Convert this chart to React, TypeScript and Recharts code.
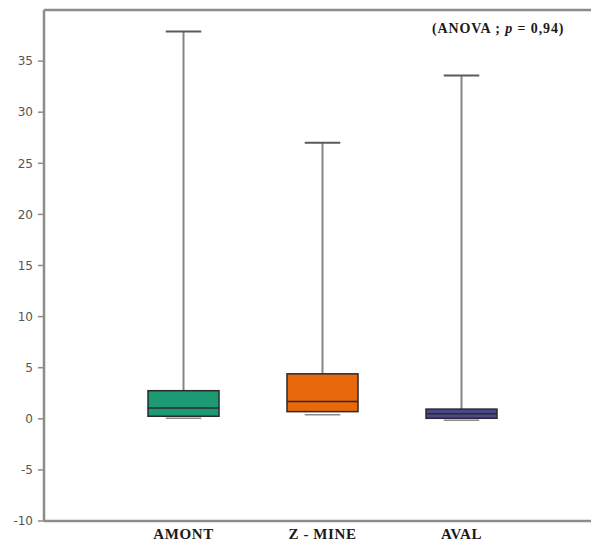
import React from "react";
import { ComposedChart, Bar, XAxis, YAxis, ReferenceLine } from "recharts";

const categories = ["AMONT", "Z - MINE", "AVAL"];
const minValues = [0.2, 0.55, 0.0];
const q1Values = [0.25, 0.7, 0.05];
const medianValues = [1.05, 1.7, 0.5];
const q3Values = [2.75, 4.4, 0.95];
const maxValues = [37.9, 27.0, 33.6];
const fills = ["#1b9a74", "#e8680c", "#4a4888"];
const yTicks = [-10, -5, 0, 5, 10, 15, 20, 25, 30, 35];

const data = categories.map((name, i) => ({
  name,
  min: minValues[i],
  q1: q1Values[i],
  median: medianValues[i],
  q3: q3Values[i],
  max: maxValues[i],
  range: [minValues[i], maxValues[i]],
  fill: fills[i],
}));

const BoxShape = (props: any) => {
  const { x, y, width, height, payload } = props;
  if (height == null || !payload) return null;
  const { min, max, q1, q3, median, fill } = payload;
  const yOf = (v: number) => y + ((max - v) / (max - min)) * height;
  const cx = x + width / 2;
  const capW = width * 0.5;
  return (
    <g>
      <line x1={cx} x2={cx} y1={yOf(max)} y2={yOf(q3)} stroke="#858585" strokeWidth={2} />
      <line x1={cx - capW / 2} x2={cx + capW / 2} y1={yOf(max)} y2={yOf(max)} stroke="#5a5a5a" strokeWidth={2} />
      <line x1={cx - capW / 2} x2={cx + capW / 2} y1={yOf(min) + 1.5} y2={yOf(min) + 1.5} stroke="#8a8a8a" strokeWidth={1.5} />
      <rect
        x={x}
        y={yOf(q3)}
        width={width}
        height={Math.max(yOf(q1) - yOf(q3), 1)}
        fill={fill}
        stroke="#2a2a2a"
        strokeWidth={1.5}
      />
      <line x1={x} x2={x + width} y1={yOf(median)} y2={yOf(median)} stroke="#2a2a2a" strokeWidth={1.5} />
    </g>
  );
};

export default function App() {
  return (
    <div style={{ position: "relative", width: 591, height: 545, background: "#fff" }}>
      <style>{"body{margin:0}"}</style>
      <ComposedChart
        width={591}
        height={545}
        data={data}
        margin={{ top: 10, right: 0, bottom: 0, left: 0 }}
      >
        <XAxis
          dataKey="name"
          height={24}
          padding={{ left: 70, right: 60 }}
          tickLine={false}
          axisLine={{ stroke: "#8c8c8c", strokeWidth: 2.5 }}
          tick={{ fill: "#1a1a1a", fontFamily: "Liberation Serif", fontWeight: "bold", fontSize: 15, letterSpacing: 0.6 }}
          tickMargin={1}
          interval={0}
        />
        <YAxis
          type="number"
          domain={[-10, 40]}
          ticks={yTicks}
          width={44}
          tickSize={6}
          tickLine={{ stroke: "#8c8c8c", strokeWidth: 1.5 }}
          axisLine={{ stroke: "#8c8c8c", strokeWidth: 2.5 }}
          tick={{ fill: "#555", fontFamily: "DejaVu Sans", fontSize: 12 }}
          tickMargin={5}
          allowDataOverflow
        />
        <ReferenceLine y={40} stroke="#8c8c8c" strokeWidth={2.5} />
        <Bar dataKey="range" barSize={71} shape={BoxShape} isAnimationActive={false} />
      </ComposedChart>
      <div
        style={{
          position: "absolute",
          left: 432,
          top: 21,
          fontFamily: "Liberation Serif",
          fontWeight: "bold",
          fontSize: 14,
          letterSpacing: 0.9,
          color: "#1a1a1a",
          whiteSpace: "nowrap",
        }}
      >
        (ANOVA ; <i>p</i> = 0,94)
      </div>
    </div>
  );
}
